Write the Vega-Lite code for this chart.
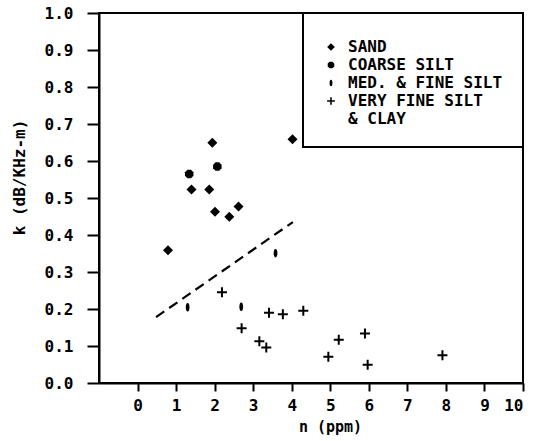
{
  "$schema": "https://vega.github.io/schema/vega-lite/v6.json",
  "width": 424,
  "height": 370,
  "autosize": {"type": "none"},
  "padding": {"left": 99, "top": 13, "right": 25, "bottom": 58},
  "background": "white",
  "config": {
    "view": {"stroke": "black", "strokeWidth": 2},
    "font": "DejaVu Sans Mono",
    "legend": {"strokeWidth": 2},
    "axis": {
      "grid": false,
      "domainColor": "black",
      "domainWidth": 2,
      "tickColor": "black",
      "tickWidth": 2,
      "labelColor": "black",
      "labelFont": "DejaVu Sans Mono",
      "labelFontSize": 16,
      "labelFontWeight": "bold",
      "labelOverlap": false,
      "titleColor": "black",
      "titleFont": "DejaVu Sans Mono",
      "titleFontSize": 15,
      "titleFontWeight": "bold"
    }
  },
  "datasets": {
    "points": [
      {"n": 4.02, "k": 0.659, "type": "SAND"},
      {"n": 1.94, "k": 0.649, "type": "SAND"},
      {"n": 1.40, "k": 0.523, "type": "SAND"},
      {"n": 1.86, "k": 0.523, "type": "SAND"},
      {"n": 2.01, "k": 0.463, "type": "SAND"},
      {"n": 2.38, "k": 0.449, "type": "SAND"},
      {"n": 2.62, "k": 0.477, "type": "SAND"},
      {"n": 0.79, "k": 0.359, "type": "SAND"},
      {"n": 2.07, "k": 0.585, "type": "COARSE SILT"},
      {"n": 1.34, "k": 0.565, "type": "COARSE SILT"},
      {"n": 3.58, "k": 0.351, "type": "MED. & FINE SILT"},
      {"n": 1.30, "k": 0.205, "type": "MED. & FINE SILT"},
      {"n": 2.69, "k": 0.206, "type": "MED. & FINE SILT"},
      {"n": 2.19, "k": 0.245, "type": "VERY FINE SILT & CLAY"},
      {"n": 3.41, "k": 0.190, "type": "VERY FINE SILT & CLAY"},
      {"n": 3.77, "k": 0.186, "type": "VERY FINE SILT & CLAY"},
      {"n": 4.30, "k": 0.195, "type": "VERY FINE SILT & CLAY"},
      {"n": 2.70, "k": 0.148, "type": "VERY FINE SILT & CLAY"},
      {"n": 3.16, "k": 0.113, "type": "VERY FINE SILT & CLAY"},
      {"n": 3.34, "k": 0.096, "type": "VERY FINE SILT & CLAY"},
      {"n": 5.22, "k": 0.117, "type": "VERY FINE SILT & CLAY"},
      {"n": 5.90, "k": 0.134, "type": "VERY FINE SILT & CLAY"},
      {"n": 4.95, "k": 0.071, "type": "VERY FINE SILT & CLAY"},
      {"n": 5.97, "k": 0.049, "type": "VERY FINE SILT & CLAY"},
      {"n": 7.91, "k": 0.075, "type": "VERY FINE SILT & CLAY"}
    ],
    "fit": [
      {"n": 0.48, "k": 0.178},
      {"n": 4.03, "k": 0.435}
    ]
  },
  "encoding": {
    "x": {
      "field": "n", "type": "quantitative",
      "scale": {"domain": [-1, 10], "nice": false},
      "axis": {
        "values": [0, 1, 2, 3, 4, 5, 6, 7, 8, 9, 10],
        "tickSize": 8,
        "labelPadding": 6,
        "title": "n (ppm)",
        "titleX": 231,
        "titleY": 43,
        "titleBaseline": "middle",
        "titleAlign": "center"
      }
    },
    "y": {
      "field": "k", "type": "quantitative",
      "scale": {"domain": [0, 1], "nice": false},
      "axis": {
        "values": [0, 0.1, 0.2, 0.3, 0.4, 0.5, 0.6, 0.7, 0.8, 0.9, 1],
        "tickCount": 11,
        "labelOverlap": false,
        "labelExpr": "format(datum.value, '.1f')",
        "tickSize": 12,
        "labelPadding": 14,
        "title": "k (dB/KHz-m)",
        "titleFontSize": 16,
        "titleX": -80,
        "titleY": 164,
        "titleAngle": 270,
        "titleAlign": "center",
        "titleBaseline": "middle"
      }
    }
  },
  "layer": [
    {
      "data": {"name": "fit"},
      "mark": {"type": "line", "color": "black", "strokeWidth": 2.2, "strokeDash": [10, 6]}
    },
    {
      "data": {"name": "points"},
      "mark": {"type": "point", "filled": true, "color": "black", "opacity": 1, "size": 100},
      "encoding": {
        "shape": {
          "field": "type", "type": "nominal",
          "scale": {
            "domain": ["SAND", "COARSE SILT", "MED. & FINE SILT", "VERY FINE SILT & CLAY"],
            "range": [
              "diamond",
              "M-0.36,-0.85L0.36,-0.85L0.85,-0.36L0.85,0.36L0.36,0.85L-0.36,0.85L-0.85,0.36L-0.85,-0.36Z",
              "M0,-0.85C0.5,-0.85 0.5,0.85 0,0.85C-0.5,0.85 -0.5,-0.85 0,-0.85Z",
              "M-1,-0.2L-0.2,-0.2L-0.2,-1L0.2,-1L0.2,-0.2L1,-0.2L1,0.2L0.2,0.2L0.2,1L-0.2,1L-0.2,0.2L-1,0.2Z"
            ]
          },
          "legend": {
            "title": " ",
            "titleFontSize": 4,
            "titlePadding": 2,
            "orient": "top-right",
            "offset": 0,
            "padding": 20,
            "strokeColor": "black",
            "fillColor": "white",
            "labelFont": "DejaVu Sans Mono",
            "labelFontSize": 16,
            "labelFontWeight": "bold",
            "labelColor": "black",
            "labelLimit": 300,
            "labelOffset": 9,
            "labelExpr": "datum.label == 'VERY FINE SILT & CLAY' ? ['VERY FINE SILT', '& CLAY'] : datum.label",
            "symbolFillColor": "black",
            "symbolStrokeColor": "black",
            "symbolSize": 60,
            "symbolOpacity": 1,
            "rowPadding": 2
          }
        }
      }
    }
  ]
}
